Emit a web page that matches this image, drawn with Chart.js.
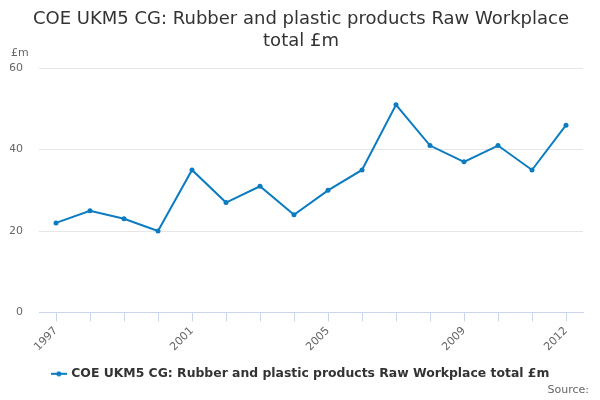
<!DOCTYPE html>
<html>
<head>
<meta charset="utf-8">
<script src="https://cdn.jsdelivr.net/npm/chart.js@4/dist/chart.umd.min.js"></script>
<style>
  html, body { margin: 0; padding: 0; background: #fff; }
  #wrap { width: 600px; height: 400px; position: relative; }
</style>
</head>
<body>
<div id="wrap"><canvas id="chart"></canvas></div>
<script>
// Data
const years = ['1997', '1998', '1999', '2000', '2001', '2002', '2003', '2004',
    '2005', '2006', '2007', '2008', '2009', '2010', '2011', '2012'];
const values = [22, 25, 23, 20, 35, 27, 31, 24, 30, 35, 51, 41, 37, 41, 35, 46];
const shownYears = ['1997', '2001', '2005', '2009', '2012'];
const seriesName = 'COE UKM5 CG: Rubber and plastic products Raw Workplace total £m';
const titleLines = ['COE UKM5 CG: Rubber and plastic products Raw Workplace', 'total £m'];

const fontFamily = "'DejaVu Sans', sans-serif";
const lineColor = '#0b7cc0';

// legend symbol: short line with a dot in the middle
const legendMarker = document.createElement('canvas');
legendMarker.width = 16;
legendMarker.height = 6;
(() => {
    const c = legendMarker.getContext('2d');
    c.strokeStyle = lineColor;
    c.lineWidth = 2;
    c.beginPath();
    c.moveTo(0, 3);
    c.lineTo(16, 3);
    c.stroke();
    c.fillStyle = lineColor;
    c.beginPath();
    c.arc(8, 3, 2.5, 0, Math.PI * 2);
    c.fill();
})();

// small extra texts: unit label and source
const extraText = {
    id: 'extraText',
    afterDraw(chart) {
        const ctx = chart.ctx;
        ctx.save();
        ctx.font = '11px ' + fontFamily;
        ctx.fillStyle = '#666';
        ctx.textAlign = 'left';
        ctx.textBaseline = 'middle';
        ctx.fillText('£m', 11, 53);
        ctx.textAlign = 'right';
        ctx.fillText('Source:', 589, 390);
        ctx.restore();
    }
};

new Chart(document.getElementById('chart').getContext('2d'), {
    type: 'line',
    data: {
        labels: years,
        datasets: [{
            label: seriesName,
            data: values,
            borderColor: lineColor,
            backgroundColor: lineColor,
            borderWidth: 2,
            tension: 0,
            pointRadius: 2.5,
            pointHoverRadius: 4,
            pointBackgroundColor: lineColor,
            pointBorderWidth: 0,
            pointStyle: 'circle'
        }]
    },
    options: {
        responsive: true,
        maintainAspectRatio: false,
        animation: false,
        layout: {
            padding: { left: 10, right: 8, top: 9, bottom: 10 }
        },
        plugins: {
            title: {
                display: true,
                text: titleLines,
                color: '#333',
                font: { family: fontFamily, size: 18, weight: 'normal', lineHeight: 1.2 },
                padding: { top: 0, bottom: 16 }
            },
            legend: {
                position: 'bottom',
                labels: {
                    color: '#333',
                    font: { family: fontFamily, size: 12.4, weight: 'bold' },
                    usePointStyle: true,
                    generateLabels: (chart) => {
                        const items = Chart.defaults.plugins.legend.labels.generateLabels(chart);
                        items.forEach(it => { it.pointStyle = legendMarker; });
                        return items;
                    },
                    boxWidth: 16,
                    padding: 11
                }
            },
            tooltip: { enabled: true }
        },
        scales: {
            x: {
                offset: true,
                afterFit: (scale) => {
                    scale.paddingLeft = 0;
                    scale.paddingRight = 17;
                },
                grid: {
                    display: true,
                    drawOnChartArea: false,
                    drawTicks: true,
                    tickLength: 9,
                    color: '#ccd6eb'
                },
                border: { color: '#ccd6eb' },
                ticks: {
                    autoSkip: false,
                    minRotation: 45,
                    maxRotation: 45,
                    padding: 3,
                    color: '#666',
                    font: { family: fontFamily, size: 11 },
                    callback: function (value) {
                        const label = this.getLabelForValue(value);
                        return shownYears.includes(label) ? label : '';
                    }
                }
            },
            y: {
                min: 0,
                max: 60,
                afterFit: (scale) => {
                    scale.width = 29;
                },
                ticks: {
                    stepSize: 20,
                    color: '#666',
                    padding: 16,
                    font: { family: fontFamily, size: 11 }
                },
                grid: {
                    color: '#e6e6e6',
                    drawTicks: false
                },
                border: { display: false }
            }
        }
    },
    plugins: [extraText]
});
</script>
</body>
</html>
